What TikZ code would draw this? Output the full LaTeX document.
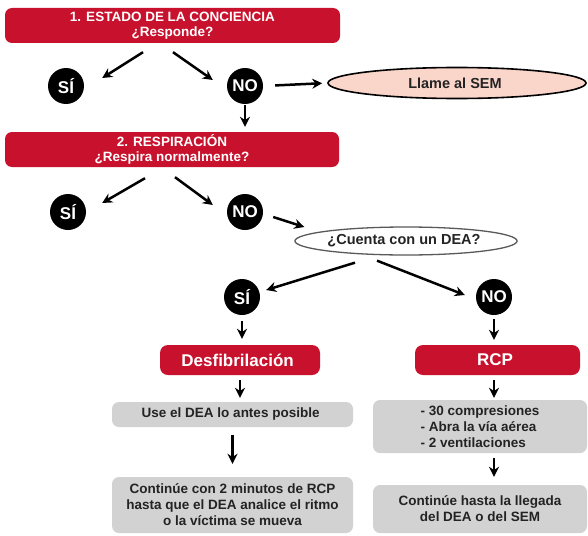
\documentclass[tikz,border=0pt]{standalone}
\usepackage{fontspec}
\setmainfont{Liberation Sans}
\usepackage{xcolor}
\usetikzlibrary{arrows.meta, calc, positioning, shapes.geometric}
\definecolor{CprRed}{RGB}{200,18,45}
\definecolor{CprGray}{RGB}{210,210,210}
\definecolor{CprPink}{RGB}{250,213,202}
\definecolor{CprInk}{RGB}{35,35,35}
\tikzset{CprChart/.style={
    x=1pt, y=-1pt,
    base/.style = {align=center, inner sep=0pt, font=\bfseries},
    title/.style = {base, fill=CprRed, text=white, rounded corners=7pt, font=\bfseries\fontsize{13.5}{14.5}\selectfont},
    action/.style = {base, fill=CprRed, text=white, rounded corners=8pt, font=\bfseries\fontsize{17}{19}\selectfont},
    note/.style = {base, fill=CprGray, text=CprInk, rounded corners=7pt, font=\bfseries\fontsize{13.5}{16}\selectfont},
    answer/.style = {base, circle, fill=black, text=white, minimum size=36pt, font=\bfseries\fontsize{17}{19}\selectfont},
    oval/.style = {base, ellipse, draw, text=CprInk, font=\bfseries\fontsize{14.5}{16}\selectfont},
    arrow/.style = {line width=2.5pt, -{Stealth[length=10pt, width=10pt]}}
}}

\begin{document}
\begin{tikzpicture}[CprChart]
        \useasboundingbox (0,0) rectangle (588,535);

        % questions
        \node [title, minimum width=335pt, minimum height=35pt] (conc) at (172.5,25.5) {
            1. ESTADO DE LA CONCIENCIA\\ ¿Responde?
        };
        \node [title, minimum width=334pt, minimum height=35pt] (resp) at (172,149.5) {
            2. RESPIRACIÓN\\ ¿Respira normalmente?
        };

        % answers
        \node [answer] (si-1) at (66,86) {SÍ};
        \node [answer] (no-1) at (245,86) {NO};
        \node [answer] (si-2) at (68,212) {SÍ};
        \node [answer] (no-2) at (245,212) {NO};
        \node [answer] (si-3) at (242,297) {SÍ};
        \node [answer] (no-3) at (494,297) {NO};

        \node [oval, fill=CprPink, line width=1.6pt, minimum width=258pt, minimum height=31pt] (sem) at (457,83) {
            Llame al SEM
        };
        \node [oval, fill=white, draw=black!65, line width=1.3pt, minimum width=212pt, minimum height=28pt] (dea) at (406,241) {
            ¿Cuenta con un DEA?
        };

        % left branch
        \node [action, minimum width=160pt, minimum height=30pt] (desf) at (240,360) {
            Desfibrilación
        };
        \node [note, minimum width=241pt, minimum height=25pt] (use) at (232.5,414.5) {
            Use el DEA lo antes posible
        };
        \node [note, minimum width=241pt, minimum height=56pt] (cont) at (232.5,505) {
            Continúe con 2 minutos de RCP\\ hasta que el DEA analice el ritmo\\ o la víctima se mueva
        };

        % right branch
        \node [action, minimum width=165pt, minimum height=30pt] (rcp) at (497.5,360) {
            RCP
        };
        \node [note, align=left, minimum width=214pt, minimum height=53pt] (steps) at (480,426.5) {
            - 30 compresiones\\ - Abra la vía aérea\\ - 2 ventilaciones
        };
        \node [note, minimum width=214pt, minimum height=48pt] (wait) at (480,509) {
            Continúe hasta la llegada\\ del DEA o del SEM
        };

        \path [arrow]
        ($(conc.south)+(-29.5,9)$) edge ($(si-1.east)+(18,-8)$)
        ($(conc.south)+(0.5,9)$) edge ($(no-1.west)+(-14,-6)$)
        (no-1.east) edge [shorten <=12pt, shorten >=5pt] (sem.west)
        (no-1.south) edge [shorten <=1pt, shorten >=5pt] (no-1.south |- resp.north)
        ($(resp.south)+(-27,11)$) edge ($(si-2.east)+(16,-9)$)
        ($(resp.south)+(3,10)$) edge ($(no-2.west)+(-14,-7)$)
        ($(no-2.east)+(10,5)$) edge ($(dea.west)+(10,-14)$)
        ($(dea.south)+(-51,7)$) edge ($(si-3.east)+(6,-7)$)
        ($(dea.south)+(-29,5)$) edge ($(no-3.west)+(-11,-2)$)
        (si-3.south) edge [shorten <=6pt, shorten >=6pt] (si-3.south |- desf.north)
        (desf.south) edge [shorten <=5pt, shorten >=4pt] (desf.south |- use.north)
        (use.south) edge [shorten <=8pt, shorten >=13pt] (use.south |- cont.north)
        (no-3.south) edge [shorten <=4pt, shorten >=5pt] (no-3.south |- rcp.north)
        (no-3.south |- rcp.south) edge [shorten <=5pt, shorten >=2pt] (no-3.south |- steps.north)
        (no-3.south |- steps.south) edge [shorten <=5pt, shorten >=8pt] (no-3.south |- wait.north);
    \end{tikzpicture}
\end{document}
